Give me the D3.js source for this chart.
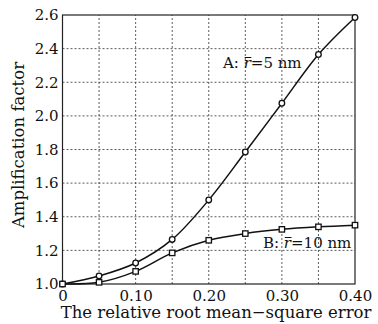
<!DOCTYPE html>
<html><head><meta charset="utf-8">
<script src="https://cdn.jsdelivr.net/npm/d3@7"></script>
<style>body{margin:0;background:#fff}svg{display:block}text{font-family:"DejaVu Serif",serif;fill:#111}</style>
</head><body>
<script>
const xValues=[0,0.05,0.10,0.15,0.20,0.25,0.30,0.35,0.40];
const seriesA=[1.00,1.048,1.125,1.265,1.50,1.785,2.075,2.365,2.585];
const seriesB=[1.00,1.01,1.075,1.185,1.26,1.30,1.325,1.34,1.35];
const xTicks=[0,0.10,0.20,0.30,0.40];
const xTickLabels=["0","0.10","0.20","0.30","0.40"];
const yTicks=[1.0,1.2,1.4,1.6,1.8,2.0,2.2,2.4,2.6];
const xGrid=[0.05,0.10,0.15,0.20,0.25,0.30,0.35];
const labelA="A: ", labelB="B: ";

const W=378,H=324;
const svg=d3.select("body").append("svg").attr("width",W).attr("height",H);
const x=d3.scaleLinear().domain([0,0.40]).range([62.5,355]);
const y=d3.scaleLinear().domain([1.0,2.6]).range([284,15]);

// grid
svg.append("g").selectAll("line").data(xGrid).join("line")
 .attr("x1",d=>x(d)).attr("x2",d=>x(d)).attr("y1",y(1.0)).attr("y2",y(2.6))
 .attr("stroke","#333").attr("stroke-width",0.8).attr("stroke-dasharray","2,2");
svg.append("g").selectAll("line").data(yTicks.slice(1,-1)).join("line")
 .attr("y1",d=>y(d)).attr("y2",d=>y(d)).attr("x1",x(0)).attr("x2",x(0.40))
 .attr("stroke","#333").attr("stroke-width",0.8).attr("stroke-dasharray","2,2");

// frame
svg.append("rect").attr("x",x(0)).attr("y",y(2.6)).attr("width",x(0.40)-x(0)).attr("height",y(1.0)-y(2.6))
 .attr("fill","none").attr("stroke","#222").attr("stroke-width",1.2);

// axes
const xa=svg.append("g").attr("transform",`translate(0,${y(1.0)})`)
 .call(d3.axisBottom(x).tickValues(xTicks).tickFormat((d,i)=>xTickLabels[i]).tickSize(0).tickPadding(6));
xa.select(".domain").remove();
xa.selectAll("text").attr("font-size",15).attr("font-family","DejaVu Serif").attr("fill","#111");
const ya=svg.append("g").attr("transform",`translate(${x(0)},0)`)
 .call(d3.axisLeft(y).tickValues(yTicks).tickFormat(d3.format(".1f")).tickSize(0).tickPadding(4));
ya.select(".domain").remove();
ya.selectAll("text").attr("font-size",15).attr("font-family","DejaVu Serif").attr("fill","#111");

// lines
const line=d3.line().x((d,i)=>x(xValues[i])).y(d=>y(d)).curve(d3.curveCatmullRom.alpha(0.5));
svg.append("path").datum(seriesA).attr("d",line).attr("fill","none").attr("stroke","#111").attr("stroke-width",1.5);
svg.append("path").datum(seriesB).attr("d",line).attr("fill","none").attr("stroke","#111").attr("stroke-width",1.5);

svg.append("g").selectAll("circle").data(seriesA).join("circle")
 .attr("cx",(d,i)=>x(xValues[i])).attr("cy",d=>y(d)).attr("r",2.8)
 .attr("fill","#fff").attr("stroke","#111").attr("stroke-width",1.3);
svg.append("g").selectAll("rect").data(seriesB).join("rect")
 .attr("x",(d,i)=>x(xValues[i])-2.7).attr("y",d=>y(d)-2.7).attr("width",5.4).attr("height",5.4)
 .attr("fill","#fff").attr("stroke","#111").attr("stroke-width",1.3);

// annotations
function ann(tx,ty,prefix,val){
 const t=svg.append("text").attr("x",tx).attr("y",ty).attr("font-size",15);
 t.append("tspan").text(prefix);
 t.append("tspan").attr("font-style","italic").text("r");
 t.append("tspan").text("=" + val + " nm");
 const idx=prefix.length;
 const ext=t.node().getExtentOfChar(idx);
 svg.append("line").attr("x1",ext.x+1).attr("x2",ext.x+ext.width+0.5)
  .attr("y1",ty-10.5).attr("y2",ty-10.5).attr("stroke","#111").attr("stroke-width",1);
}
ann(223,68,labelA,"5");
ann(263,248,labelB,"10");

// titles
svg.append("text").attr("x",216).attr("y",318).attr("text-anchor","middle").attr("font-size",16.5)
 .text("The relative root mean\u2212square error");
svg.append("text").attr("transform","translate(24,145) rotate(-90)").attr("text-anchor","middle").attr("font-size",16.5)
 .text("Amplification factor");
</script>
</body></html>
